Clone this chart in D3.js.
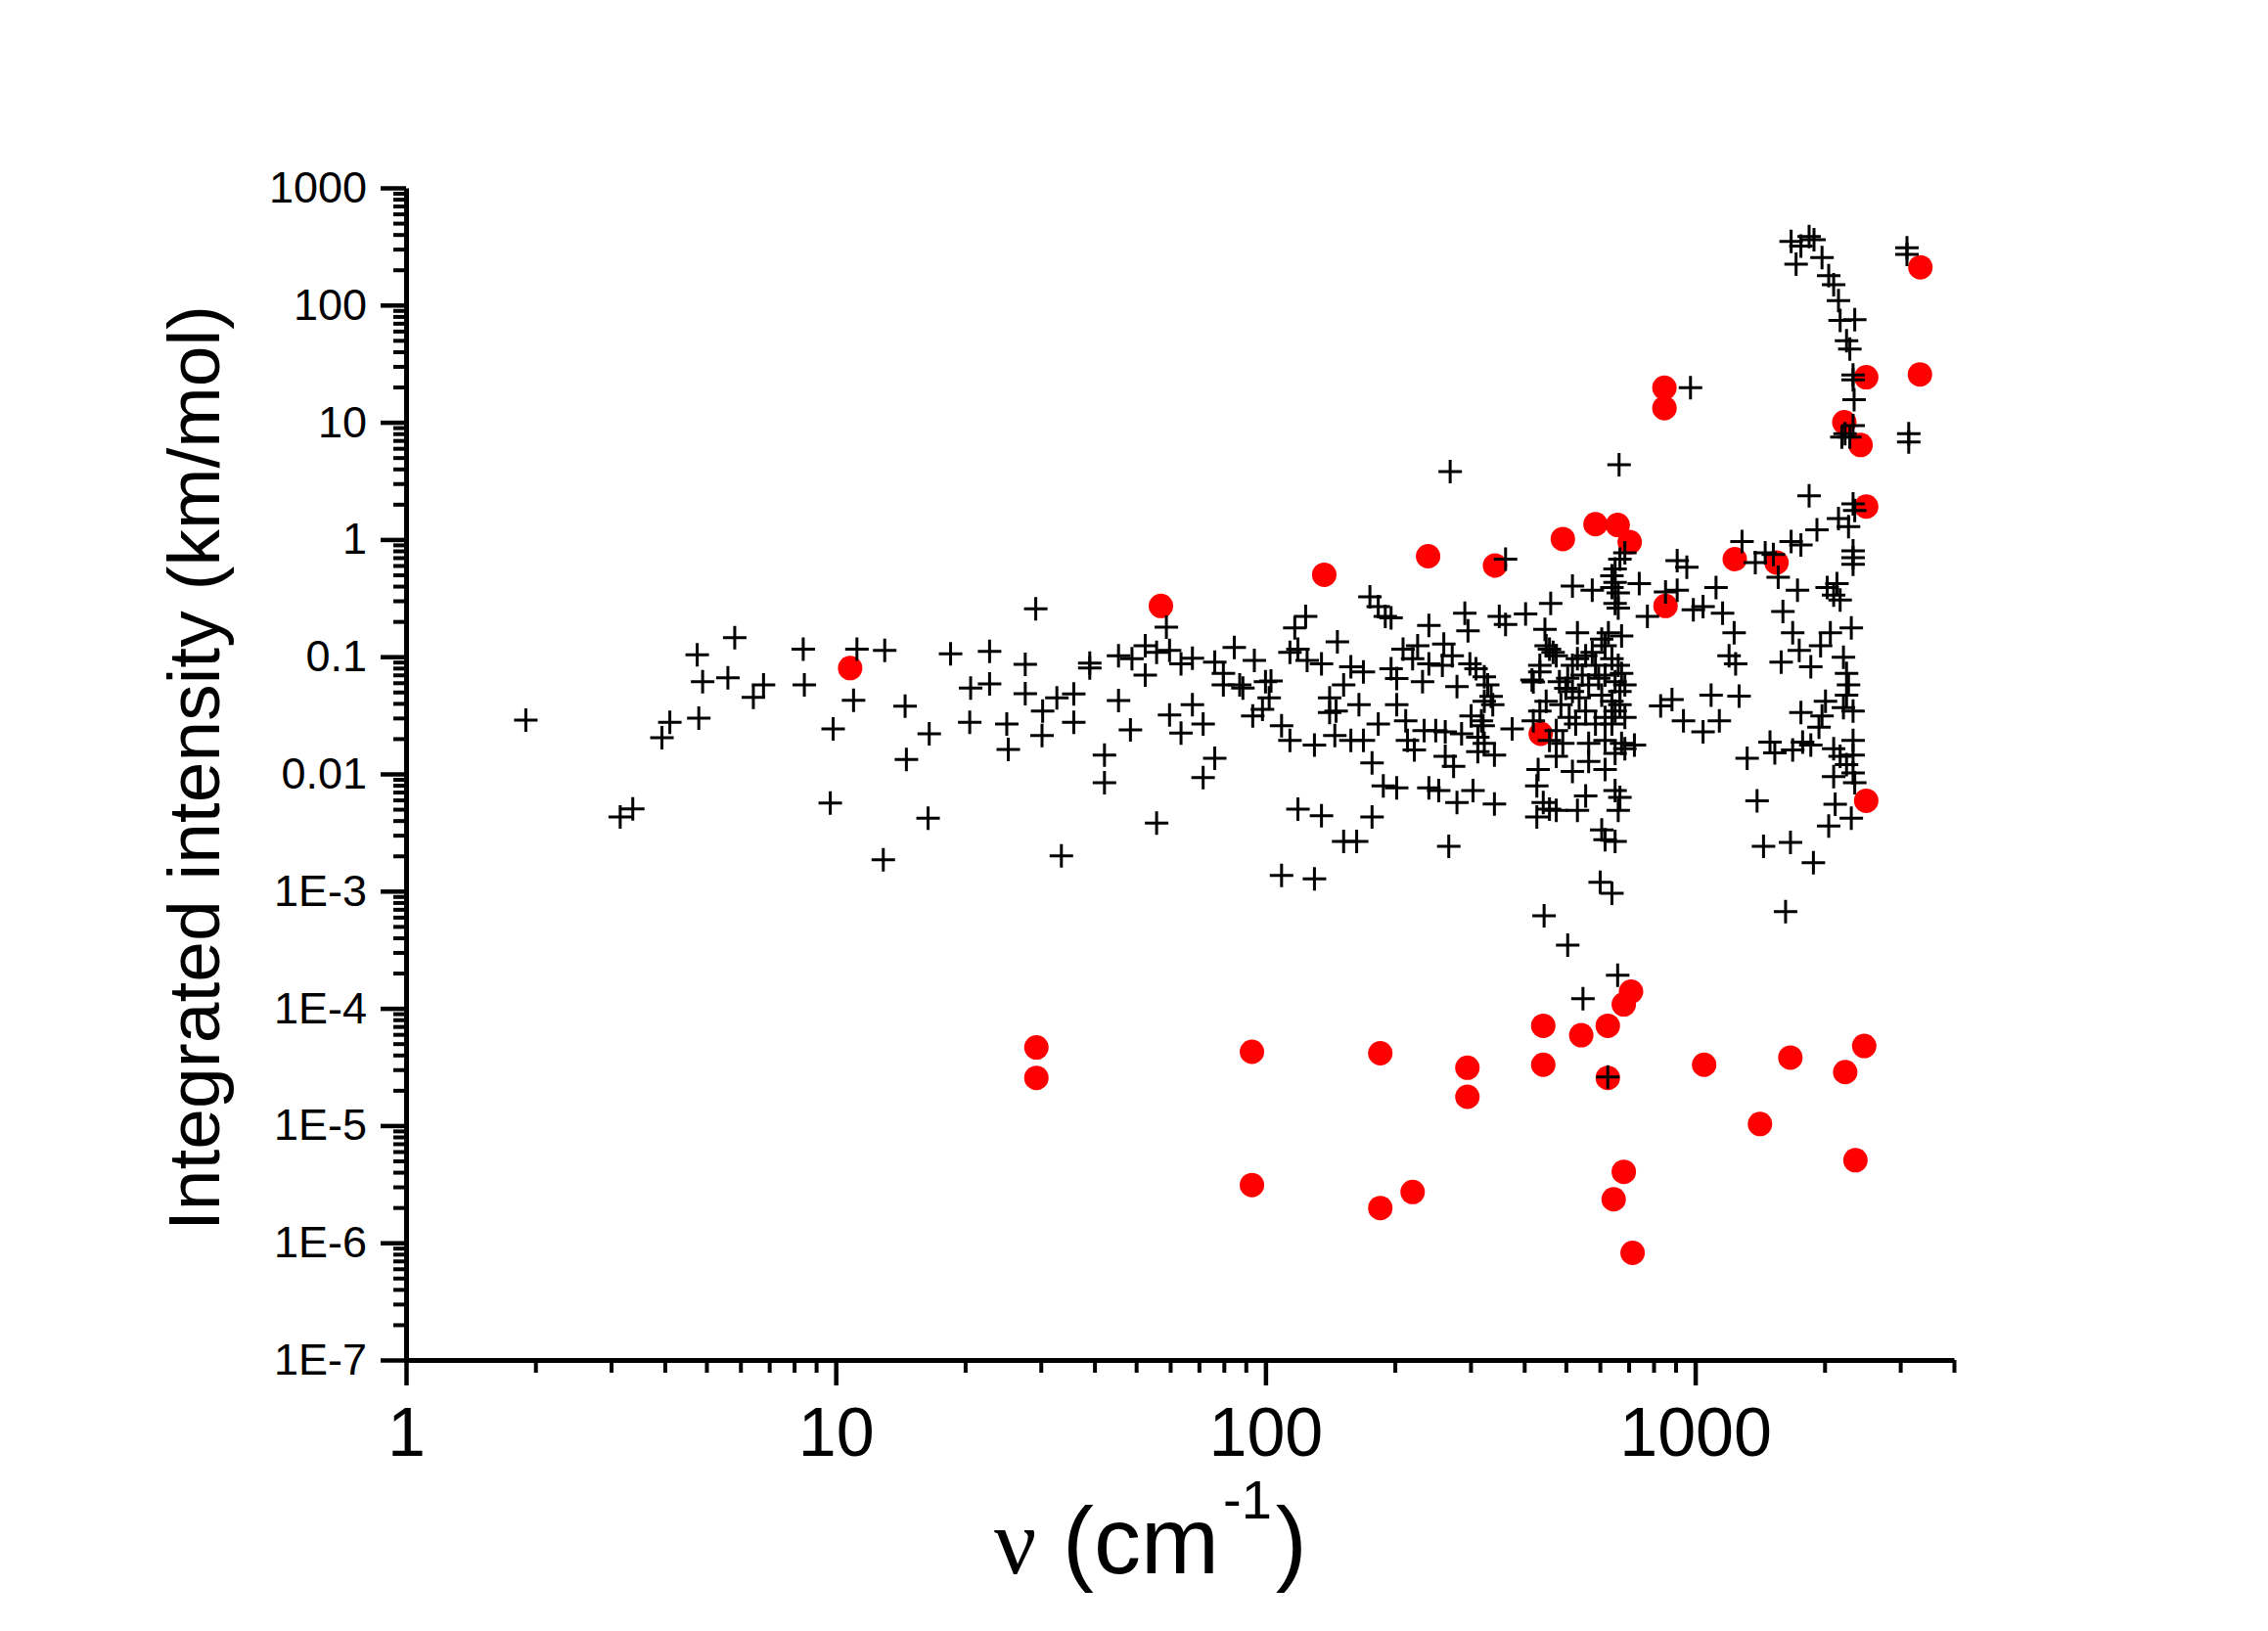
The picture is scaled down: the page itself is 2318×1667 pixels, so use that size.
<!DOCTYPE html>
<html>
<head>
<meta charset="utf-8">
<script src="https://cdn.jsdelivr.net/npm/d3@7"></script>
<style>
  body { margin: 0; background: #fff; }
</style>
</head>
<body>
<div id="container"></div>
<script>
// [wavenumber cm-1, integrated intensity km/mol]
const plusPoints = [
  [1.90,0.0288],[4.76,0.104],[5.82,0.145],[4.90,0.0612],[5.61,0.066],[6.79,0.0575],[6.43,0.045],[8.40,0.116],
  [8.45,0.0575],[11.2,0.116],[13.0,0.113],[11.0,0.0425],[9.86,0.0242],[9.71,0.00565],[14.5,0.0379],[16.5,0.022],
  [14.6,0.0133],[16.4,0.0042],[12.9,0.00185],[18.5,0.106],[22.8,0.111],[27.6,0.086],[29.2,0.256],[20.6,0.054],
  [22.8,0.0586],[27.6,0.0483],[20.5,0.0275],[25.0,0.0267],[25.2,0.0162],[30.3,0.0344],[30.2,0.0213],[33.5,0.0020],
  [4.11,0.0275],[3.94,0.0204],[4.80,0.0299],[3.37,0.00504],[3.15,0.0043],
  [58.8,0.179],[39.0,0.088],[39.0,0.080],[45.5,0.102],[48.9,0.096],[52.5,0.124],[52.5,0.0697],[55.8,0.109],
  [59.8,0.113],[63.6,0.087],[67.6,0.097],[76.2,0.090],[79.8,0.072],[84.6,0.120],[94.2,0.093],[79.8,0.0575],
  [87.1,0.0575],[88.6,0.054],[100,0.0612],[103,0.062],[102,0.0445],[98.4,0.0356],[93.4,0.0313],[109,0.0258],
  [114,0.0193],[130,0.0176],[117,0.176],[124,0.221],[119,0.116],[114,0.109],[125,0.093],[135,0.087],[147,0.134],
  [158,0.082],[169,0.074],[152,0.0575],[141,0.0445],[141,0.0334],[146,0.0344],[165,0.039],[145,0.0213],
  [158,0.0193],[169,0.0193],[183,0.0267],[177,0.0124],[175,0.324],[183,0.268],[190,0.221],[196,0.214],
  [240,0.185],[291,0.235],[296,0.166],[350,0.221],[362,0.188],[362,0.678],[403,0.232],[209,0.116],[226,0.124],
  [220,0.096],[240,0.087],[260,0.128],[272,0.102],[196,0.079],[202,0.065],[232,0.0612],[258,0.0845],[279,0.0556],
  [299,0.087],[309,0.079],[323,0.0675],[329,0.0575],[335,0.0459],[323,0.0417],[338,0.039],[301,0.0313],
  [318,0.0284],[321,0.0258],[312,0.0206],[323,0.0182],[341,0.0145],[312,0.0155],[375,0.0242],[202,0.039],
  [212,0.0284],[234,0.0234],[249,0.0234],[262,0.0228],[286,0.022],[222,0.016],[262,0.0141],[274,0.0116],
  [188,0.0079],[202,0.0076],[240,0.0076],[253,0.0072],[279,0.0057],[304,0.0072],[341,0.00555],[267,0.00241],
  [177,0.0043],[152,0.00265],[163,0.00265],[119,0.0050],[135,0.0044],[109,0.00136],[130,0.00127],[214,0.0193],
  [35.8,0.0482],[32.7,0.0445],[35.8,0.0275],[45.5,0.0423],[48.5,0.0238],[59.8,0.0319],[67.6,0.039],[63.6,0.0223],
  [71.6,0.0267],[76.2,0.0136],[71.6,0.0093],[42.2,0.0145],[42.2,0.0084],[55.8,0.0038],[269,3.8],[975,19.7],
  [665,4.34],[686,0.77],[668,0.68],[651,0.56],[640,0.49],[651,0.43],[640,0.39],[662,0.35],[651,0.285],[662,0.26],
  [741,0.42],[518,0.40],[576,0.37],[461,0.285],[908,0.66],[956,0.58],[853,0.357],[908,0.37],[774,0.221],
  [990,0.251],[1043,0.268],[1118,0.39],[1158,0.235],[1232,0.160],[1199,0.102],[1242,0.087],[1285,0.96],
  [447,0.171],[532,0.160],[628,0.160],[674,0.150],[458,0.116],[475,0.102],[435,0.074],[420,0.061],[831,0.038],
  [883,0.043],[939,0.0284],[1043,0.0228],[1089,0.047],[1138,0.0284],[1265,0.046],
  [450,0.124],[467,0.109],[435,0.0845],[417,0.0633],[483,0.0612],[505,0.0653],[518,0.0845],[532,0.096],
  [556,0.102],[576,0.109],[606,0.141],[617,0.124],[640,0.096],[662,0.0845],[674,0.072],[686,0.0575],
  [668,0.0505],[640,0.0417],[651,0.0344],[617,0.0303],[586,0.0267],[556,0.0344],[537,0.0445],[518,0.0505],
  [500,0.0537],[487,0.039],[509,0.0303],[527,0.0267],[475,0.0234],[435,0.0344],[420,0.0284],[565,0.0575],
  [596,0.0653],[606,0.047],[546,0.0697],[617,0.0697],[651,0.0612],[586,0.0845],[668,0.039],[640,0.0267],
  [686,0.0303],[565,0.0182],[617,0.0193],[674,0.0182],[722,0.0176],[492,0.0182],[450,0.0417],[458,0.0193],
  [475,0.0141],[431,0.0109],[518,0.0105],[565,0.0128],[617,0.0109],[651,0.015],[686,0.0164],[428,0.0079],
  [443,0.0057],[458,0.0050],[428,0.0043],[475,0.00488],[532,0.00488],[556,0.0065],[651,0.0072],[668,0.0063],
  [662,0.00488],[606,0.00333],[617,0.00274],[651,0.00265],[601,0.00119],[640,0.00096],[445,0.000616],
  [505,0.000346],[660,0.000192],[548,0.000121],[1321,0.0136],[1393,0.0059],[626,2.6e-5],
  [1672,349],[1762,318],[1841,385],[1890,361],[1717,223],[1973,254],[2045,178],[2100,149],[2155,109],[2174,74],
  [2351,75],[2250,49.6],[2290,42.2],[2330,25.3],[2330,23],[2343,15.6],[2330,9.37],[2232,7.98],[2194,7.48],
  [2290,7.48],[3110,308],[3110,270],[3140,7.98],[3140,6.8],[1841,2.36],[2330,2.01],[2351,1.77],[2155,1.51],
  [2274,1.29],[1920,1.21],[1672,0.96],[1762,0.90],[2330,0.80],[2330,0.70],[2330,0.615],[1380,0.635],[1455,0.77],
  [1520,0.745],[1560,0.476],[1730,0.369],[2028,0.39],[2137,0.42],
  [2100,0.335],[1600,0.243],[2174,0.304],[1686,0.16],[2063,0.16],[2308,0.176],[1958,0.124],[1746,0.113],
  [1585,0.090],[1858,0.082],[2213,0.099],[2250,0.072],[2274,0.0575],[2250,0.047],[2213,0.0367],[2330,0.0344],
  [2010,0.0417],[1973,0.0313],[1762,0.0334],[1941,0.025],[1493,0.0187],[1532,0.0151],[1686,0.016],[1778,0.0187],
  [1858,0.0176],[2100,0.0164],[2174,0.0141],[2330,0.0193],[2330,0.0145],[2250,0.0120],[2330,0.0102],
  [2351,0.0084],[2100,0.0095],[2117,0.0055],[2045,0.0036],[2308,0.0042],[1442,0.00241],[1666,0.0026],
  [1884,0.00175],[1623,0.00067]
];

const dotPoints = [
  [10.8,0.080],[57.1,0.271],[137,0.50],[239,0.72],[342,0.60],[492,1.01],[586,1.35],[660,1.33],[704,0.95],
  [853,0.271],[1236,0.68],[437,0.022],[848,19.7],[848,13.2],[1546,0.635],[3342,210],[3334,25.6],[2500,24.2],
  [2223,10],[2426,6.4],[2500,1.91],[2500,0.0059],
  [709,1.39e-4],[682,1.08e-4],[443,7.1e-5],[543,5.9e-5],[626,7.1e-5],[443,3.3e-5],[1049,3.3e-5],
  [29.3,4.64e-5],[29.3,2.55e-5],[93.0,4.26e-5],[93.0,3.11e-6],[185,4.14e-5],[185,1.98e-6],[220,2.71e-6],
  [295,3.11e-5],[295,1.76e-5],[626,2.55e-5],[646,2.35e-6],[682,4.03e-6],[715,8.2e-7],[1415,1.03e-5],
  [1665,3.80e-5],[2234,2.86e-5],[2473,4.77e-5],[2360,5.06e-6]
];

const xTicks = [1, 10, 100, 1000];
const yTicks = [1000, 100, 10, 1, 0.1, 0.01, 1e-3, 1e-4, 1e-5, 1e-6, 1e-7];
const yTickLabels = ['1000', '100', '10', '1', '0.1', '0.01', '1E-3', '1E-4', '1E-5', '1E-6', '1E-7'];

const W = 2318, H = 1667;
const sans = "'Liberation Sans', Arial, sans-serif";

let viz = d3.select('#container')
    .append('svg')
    .attr('width', W)
    .attr('height', H)
    .style('background', 'white');

const x = d3.scaleLog().domain([1, 4000]).range([415, 1997]);
const y = d3.scaleLog().domain([1e-7, 1000]).range([1390, 192]);

// minor log ticks (2..9 in each decade)
const minorX = d3.range(0, 4).flatMap(k => d3.range(2, 10).map(m => m * Math.pow(10, k))).filter(v => v <= 4000);
const minorY = d3.range(-7, 3).flatMap(k => d3.range(2, 10).map(m => m * Math.pow(10, k)));

function styleAxis(g, width) {
    g.selectAll('line').attr('stroke', 'black').attr('stroke-width', width);
    g.select('.domain').attr('stroke', 'black').attr('stroke-width', 5);
}

// x axis
let xMinor = viz.append('g')
    .attr('transform', 'translate(0,1390)')
    .call(d3.axisBottom(x).tickValues(minorX).tickSize(13).tickSizeOuter(0).tickFormat(''));
styleAxis(xMinor, 4);
xMinor.select('.domain').remove();

let xAxis = viz.append('g')
    .attr('transform', 'translate(0,1390)')
    .call(d3.axisBottom(x).tickValues(xTicks).tickSize(26).tickSizeOuter(0).tickPadding(22).tickFormat(d3.format('d')));
styleAxis(xAxis, 4.5);
xAxis.selectAll('text').attr('font-size', 70).attr('font-family', sans).attr('fill', 'black');

// y axis
let yMinor = viz.append('g')
    .attr('transform', 'translate(415,0)')
    .call(d3.axisLeft(y).tickValues(minorY).tickSize(13).tickSizeOuter(0).tickFormat(''));
styleAxis(yMinor, 4);
yMinor.select('.domain').remove();

let yAxis = viz.append('g')
    .attr('transform', 'translate(415,0)')
    .call(d3.axisLeft(y).tickValues(yTicks).tickSize(26).tickSizeOuter(0).tickPadding(14)
        .tickFormat((d, i) => yTickLabels[i]));
styleAxis(yAxis, 4.5);
yAxis.selectAll('text').attr('font-size', 45).attr('font-family', sans).attr('fill', 'black');

// red dots first, crosses drawn over them
viz.append('g').selectAll('circle').data(dotPoints)
    .enter()
    .append('circle')
    .attr('cx', d => x(d[0]))
    .attr('cy', d => y(d[1]))
    .attr('r', 12.5)
    .attr('fill', '#ff0000');

viz.append('g').selectAll('path').data(plusPoints)
    .enter()
    .append('path')
    .attr('d', 'M-12,0H12M0,-12V12')
    .attr('transform', d => `translate(${x(d[0])},${y(d[1])})`)
    .attr('stroke', 'black')
    .attr('stroke-width', 3)
    .attr('fill', 'none');

// axis titles
viz.append('text')
    .text('Integrated intensity (km/mol)')
    .attr('transform', 'translate(224,785) rotate(-90)')
    .attr('text-anchor', 'middle')
    .attr('font-size', 75)
    .attr('font-family', sans)
    .attr('fill', 'black');

let xTitle = viz.append('text')
    .attr('x', 1016)
    .attr('y', 1608)
    .attr('font-size', 96)
    .attr('font-family', sans)
    .attr('fill', 'black');
xTitle.append('tspan').text('ν').attr('font-family', "'Liberation Serif', 'Times New Roman', serif");
xTitle.append('tspan').text(' (cm');
xTitle.append('tspan').text('-1').attr('font-size', 56).attr('dy', -56).attr('dx', 4);
xTitle.append('tspan').text(')').attr('dy', 56).attr('dx', 4);
</script>
</body>
</html>
